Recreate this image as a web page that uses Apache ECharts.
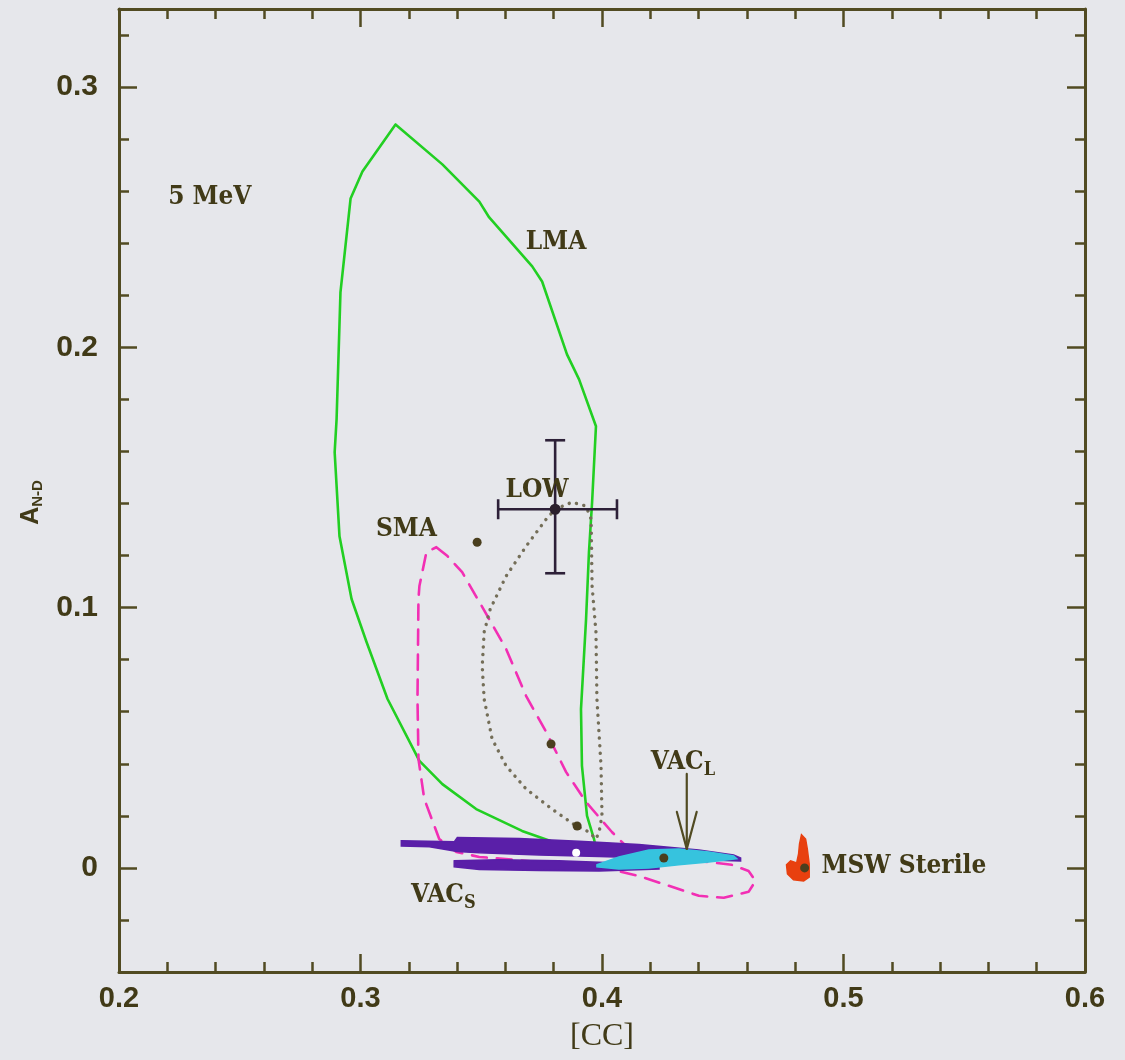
<!DOCTYPE html>
<html>
<head>
<meta charset="utf-8">
<script src="https://cdn.jsdelivr.net/npm/echarts@6/dist/echarts.min.js"></script>
<style>
html,body{margin:0;padding:0;background:#e6e7eb;}
#chart{width:1125px;height:1060px;}
</style>
</head>
<body>
<div id="chart"></div>
<script>
// ---------------- data ----------------
const xTicks = [0.2, 0.3, 0.4, 0.5, 0.6];
const yTicks = [0, 0.1, 0.2, 0.3];

const lmaContour = [[0.3145,0.2856],[0.3339,0.2703],[0.3492,0.2560],[0.3533,0.2499],[0.3711,0.2311],[0.3752,0.2253],[0.3855,0.1973],[0.3905,0.1877],[0.3975,0.1697],[0.3959,0.1405],[0.3946,0.1213],[0.3934,0.0956],[0.3913,0.0610],[0.3917,0.0392],[0.3938,0.0200],[0.3967,0.0111],[0.3975,0.0073],[0.3822,0.0092],[0.3669,0.0142],[0.3479,0.0226],[0.3339,0.0322],[0.3244,0.0411],[0.3112,0.0649],[0.3025,0.0868],[0.2963,0.1033],[0.2913,0.1274],[0.2893,0.1597],[0.2901,0.1724],[0.2917,0.2211],[0.2959,0.2572],[0.3008,0.2676],[0.3145,0.2856]];

const smaContour = [[0.3314,0.1232],[0.3360,0.1198],[0.3421,0.1136],[0.3521,0.0975],[0.3603,0.0841],[0.3686,0.0660],[0.3769,0.0522],[0.3851,0.0369],[0.3934,0.0253],[0.4041,0.0138],[0.4099,0.0084],[0.4236,0.0046],[0.4401,0.0027],[0.4537,0.0012],[0.4607,-0.0012],[0.4636,-0.0050],[0.4607,-0.0092],[0.4504,-0.0115],[0.4401,-0.0107],[0.4277,-0.0069],[0.4153,-0.0031],[0.3988,0.0004],[0.3740,0.0023],[0.3492,0.0042],[0.3397,0.0061],[0.3326,0.0111],[0.3264,0.0265],[0.3240,0.0418],[0.3236,0.0649],[0.3240,0.1033],[0.3244,0.1083],[0.3273,0.1213],[0.3314,0.1232]];

const lowContour = [[0.3806,0.1378],[0.3876,0.1405],[0.3934,0.1390],[0.3955,0.1340],[0.3959,0.1083],[0.3975,0.0906],[0.3979,0.0649],[0.3996,0.0392],[0.4000,0.0200],[0.3988,0.0138],[0.3975,0.0111],[0.3946,0.0138],[0.3893,0.0161],[0.3793,0.0226],[0.3686,0.0303],[0.3603,0.0392],[0.3545,0.0495],[0.3512,0.0649],[0.3504,0.0775],[0.3512,0.0906],[0.3537,0.0994],[0.3603,0.1121],[0.3686,0.1236],[0.3769,0.1340],[0.3806,0.1378]];

const vacSUpper = [[0.3169,0.0104],[0.3388,0.0100],[0.3401,0.0117],[0.3657,0.0113],[0.3905,0.0102],[0.4153,0.0090],[0.4401,0.0069],[0.4545,0.0050],[0.4574,0.0038],[0.4574,0.0027],[0.4401,0.0031],[0.4194,0.0038],[0.3988,0.0044],[0.3740,0.0050],[0.3492,0.0058],[0.3401,0.0063],[0.3285,0.0081],[0.3169,0.0084]];
const vacSLower = [[0.3388,0.0027],[0.3574,0.0031],[0.3822,0.0027],[0.4070,0.0019],[0.4236,0.0012],[0.4236,-0.0004],[0.3988,-0.0012],[0.3740,-0.0010],[0.3492,-0.0006],[0.3388,0.0004]];
const vacLRegion = [[0.3979,0.0012],[0.4070,0.0042],[0.4194,0.0069],[0.4318,0.0073],[0.4442,0.0061],[0.4545,0.0046],[0.4558,0.0035],[0.4442,0.0023],[0.4318,0.0012],[0.4194,0.0000],[0.4070,-0.0004],[0.3979,0.0004]];
const mswSterileRegion = [[0.4826,0.0127],[0.4843,0.0111],[0.4850,0.0073],[0.4858,0.0015],[0.4858,-0.0035],[0.4835,-0.0050],[0.4793,-0.0046],[0.4768,-0.0023],[0.4764,0.0012],[0.4781,0.0027],[0.4806,0.0019],[0.4814,0.0054],[0.4818,0.0092]];

const bestFitPoints = [[0.3483,0.1251],[0.3789,0.0476],[0.3897,0.0161],[0.4256,0.0038],[0.4839,0.0]];
const whitePoint = [[0.3893,0.0058]];
// measurement: x, y, xLow, xHigh, yLow, yHigh
const measurement = [[0.3806,0.1378,0.3570,0.4062,0.1132,0.1643]];

const arrowShaft = [[0.4351,0.0361],[0.4351,0.0073]];
const arrowHead = [[0.4310,0.0215],[0.4351,0.0073],[0.4392,0.0215]];

const labelTexts = ['5 MeV','LMA','LOW','SMA','{m|VAC}{s|S}','{m|VAC}{s|L}','MSW Sterile'];
const labelX = [0.2376,0.3810,0.3731,0.3190,0.3343,0.4335,0.4909];
const labelY = [0.2576,0.2403,0.1451,0.1301,-0.0104,0.0407,0.0008];
const labelAlign = ['center','center','center','center','center','center','left'];

// ---------------- style ----------------
const AX = '#514b22';
const TX = '#413a17';
const SERIF = '"DejaVu Serif Condensed", "DejaVu Serif", serif';
const SANS = '"Liberation Sans", Arial, sans-serif';

function xAxisDef(pos, showLabel) {
  return {
    type: 'value', min: 0.2, max: 0.6, interval: 0.1, position: pos,
    axisLine: {show: true, onZero: false, lineStyle: {color: AX, width: 3}},
    axisTick: {show: true, inside: true, length: 18, lineStyle: {color: AX, width: 2.5}},
    minorTick: {show: true, splitNumber: 5, length: 10, lineStyle: {color: AX, width: 2.5}},
    splitLine: {show: false}, minorSplitLine: {show: false},
    axisLabel: {show: showLabel, margin: 12, fontFamily: SANS, fontWeight: 'bold', fontSize: 29, color: TX,
      formatter: v => v.toFixed(1)},
    name: showLabel ? '[CC]' : '', nameLocation: 'middle', nameGap: 49,
    nameTextStyle: {fontFamily: '"Liberation Serif", serif', fontSize: 32, color: TX}
  };
}
function yMinorDef(pos, showLabel) {
  return {
    type: 'value', min: -0.04, max: 0.33, interval: 0.02, position: pos,
    axisLine: {show: true, onZero: false, lineStyle: {color: AX, width: 3}},
    axisTick: {show: true, inside: true, length: 10, lineStyle: {color: AX, width: 2.5}},
    splitLine: {show: false},
    axisLabel: {show: showLabel, margin: 21, fontFamily: SANS, fontWeight: 'bold', fontSize: 30, color: TX,
      formatter: v => {
        for (const t of yTicks) { if (Math.abs(v - t) < 1e-6) return t === 0 ? '0' : t.toFixed(1); }
        return '';
      }},
    name: showLabel ? '{a|A}{s|N-D}' : '', nameLocation: 'middle', nameGap: 72, nameRotate: 90,
    nameTextStyle: {padding: [0, 24, 0, 0], rich: {
      a: {fontFamily: SANS, fontWeight: 'bold', fontSize: 25, color: TX},
      s: {fontFamily: SANS, fontWeight: 'bold', fontSize: 15, color: TX, padding: [14, 0, 0, 0]}
    }}
  };
}
function yMajorDef(pos) {
  return {
    type: 'value', min: -0.04, max: 0.33, position: pos,
    axisLine: {show: false, onZero: false},
    axisTick: {show: true, inside: true, length: 18, customValues: yTicks, lineStyle: {color: AX, width: 2.5}},
    axisLabel: {show: false}, splitLine: {show: false}
  };
}

function polygonSeries(points, color, z) {
  return {
    type: 'custom', coordinateSystem: 'cartesian2d', data: points, z: z, silent: true,
    encode: {x: 0, y: 1},
    renderItem: (params, api) => {
      if (params.dataIndex !== 0) return;
      const pts = points.map(p => api.coord(p));
      return {type: 'polygon', shape: {points: pts}, style: {fill: color, stroke: color, lineWidth: 1.5}};
    }
  };
}
function lineSeries(points, color, width, dash, z) {
  return {
    type: 'line', data: points, symbol: 'none', z: z, silent: true,
    lineStyle: {color: color, width: width, type: dash || 'solid', cap: 'round', join: 'round'}
  };
}

const labelData = labelTexts.map((t, i) => [labelX[i], labelY[i], i]);

const series = [
  lineSeries(lmaContour, '#22cf22', 2.6, 'solid', 2),
  lineSeries(smaContour, '#f22fb4', 2.6, [15, 10], 2),
  lineSeries(lowContour, '#746e58', 3.4, [0.1, 7.5], 2),
  polygonSeries(vacSUpper, '#5a1fa8', 3),
  polygonSeries(vacSLower, '#5a1fa8', 3),
  polygonSeries(vacLRegion, '#36c3de', 4),
  polygonSeries(mswSterileRegion, '#e8400f', 3),
  lineSeries(arrowShaft, AX, 2.2, 'solid', 5),
  lineSeries(arrowHead, AX, 2.2, 'solid', 5),
  {
    type: 'custom', data: measurement, z: 6, silent: true,
    encode: {x: [0, 2, 3], y: [1, 4, 5]},
    renderItem: (params, api) => {
      const c = api.coord([api.value(0), api.value(1)]);
      const l = api.coord([api.value(2), api.value(1)]);
      const r = api.coord([api.value(3), api.value(1)]);
      const b = api.coord([api.value(0), api.value(4)]);
      const t = api.coord([api.value(0), api.value(5)]);
      const st = {stroke: '#2d2038', lineWidth: 2.6};
      const cap = 10;
      return {type: 'group', children: [
        {type: 'line', shape: {x1: l[0], y1: l[1], x2: r[0], y2: r[1]}, style: st},
        {type: 'line', shape: {x1: b[0], y1: b[1], x2: t[0], y2: t[1]}, style: st},
        {type: 'line', shape: {x1: l[0], y1: l[1] - cap, x2: l[0], y2: l[1] + cap}, style: st},
        {type: 'line', shape: {x1: r[0], y1: r[1] - cap, x2: r[0], y2: r[1] + cap}, style: st},
        {type: 'line', shape: {x1: b[0] - cap, y1: b[1], x2: b[0] + cap, y2: b[1]}, style: st},
        {type: 'line', shape: {x1: t[0] - cap, y1: t[1], x2: t[0] + cap, y2: t[1]}, style: st},
        {type: 'circle', shape: {cx: c[0], cy: c[1], r: 5.5}, style: {fill: '#2a1f2c'}}
      ]};
    }
  },
  {type: 'scatter', data: bestFitPoints, symbolSize: 9, z: 7, silent: true,
   itemStyle: {color: '#4a3f1e', opacity: 1}},
  {type: 'scatter', data: whitePoint, symbolSize: 8, z: 7, silent: true,
   itemStyle: {color: '#ffffff', opacity: 1}},
  {
    type: 'custom', data: labelData, z: 8, silent: true,
    encode: {x: 0, y: 1},
    renderItem: (params, api) => {
      const i = api.value(2);
      const p = api.coord([api.value(0), api.value(1)]);
      return {type: 'text', x: p[0], y: p[1], style: {
        text: labelTexts[i], align: labelAlign[i], verticalAlign: 'middle',
        fontFamily: SERIF, fontWeight: 'bold', fontSize: 26, fill: TX,
        rich: {
          m: {fontFamily: SERIF, fontWeight: 'bold', fontSize: 26, fill: TX},
          s: {fontFamily: SERIF, fontWeight: 'bold', fontSize: 18, fill: TX, padding: [16, 0, 0, 0]}
        }
      }};
    }
  }
];

const chart = echarts.init(document.getElementById('chart'), null, {renderer: 'canvas'});
chart.setOption({
  animation: false,
  backgroundColor: '#e6e7eb',
  grid: {left: 119, right: 40, top: 9, bottom: 88, containLabel: false},
  xAxis: [xAxisDef('bottom', true), xAxisDef('top', false)],
  yAxis: [yMinorDef('left', true), yMajorDef('left'), yMinorDef('right', false), yMajorDef('right')],
  series: series
});
</script>
</body>
</html>
